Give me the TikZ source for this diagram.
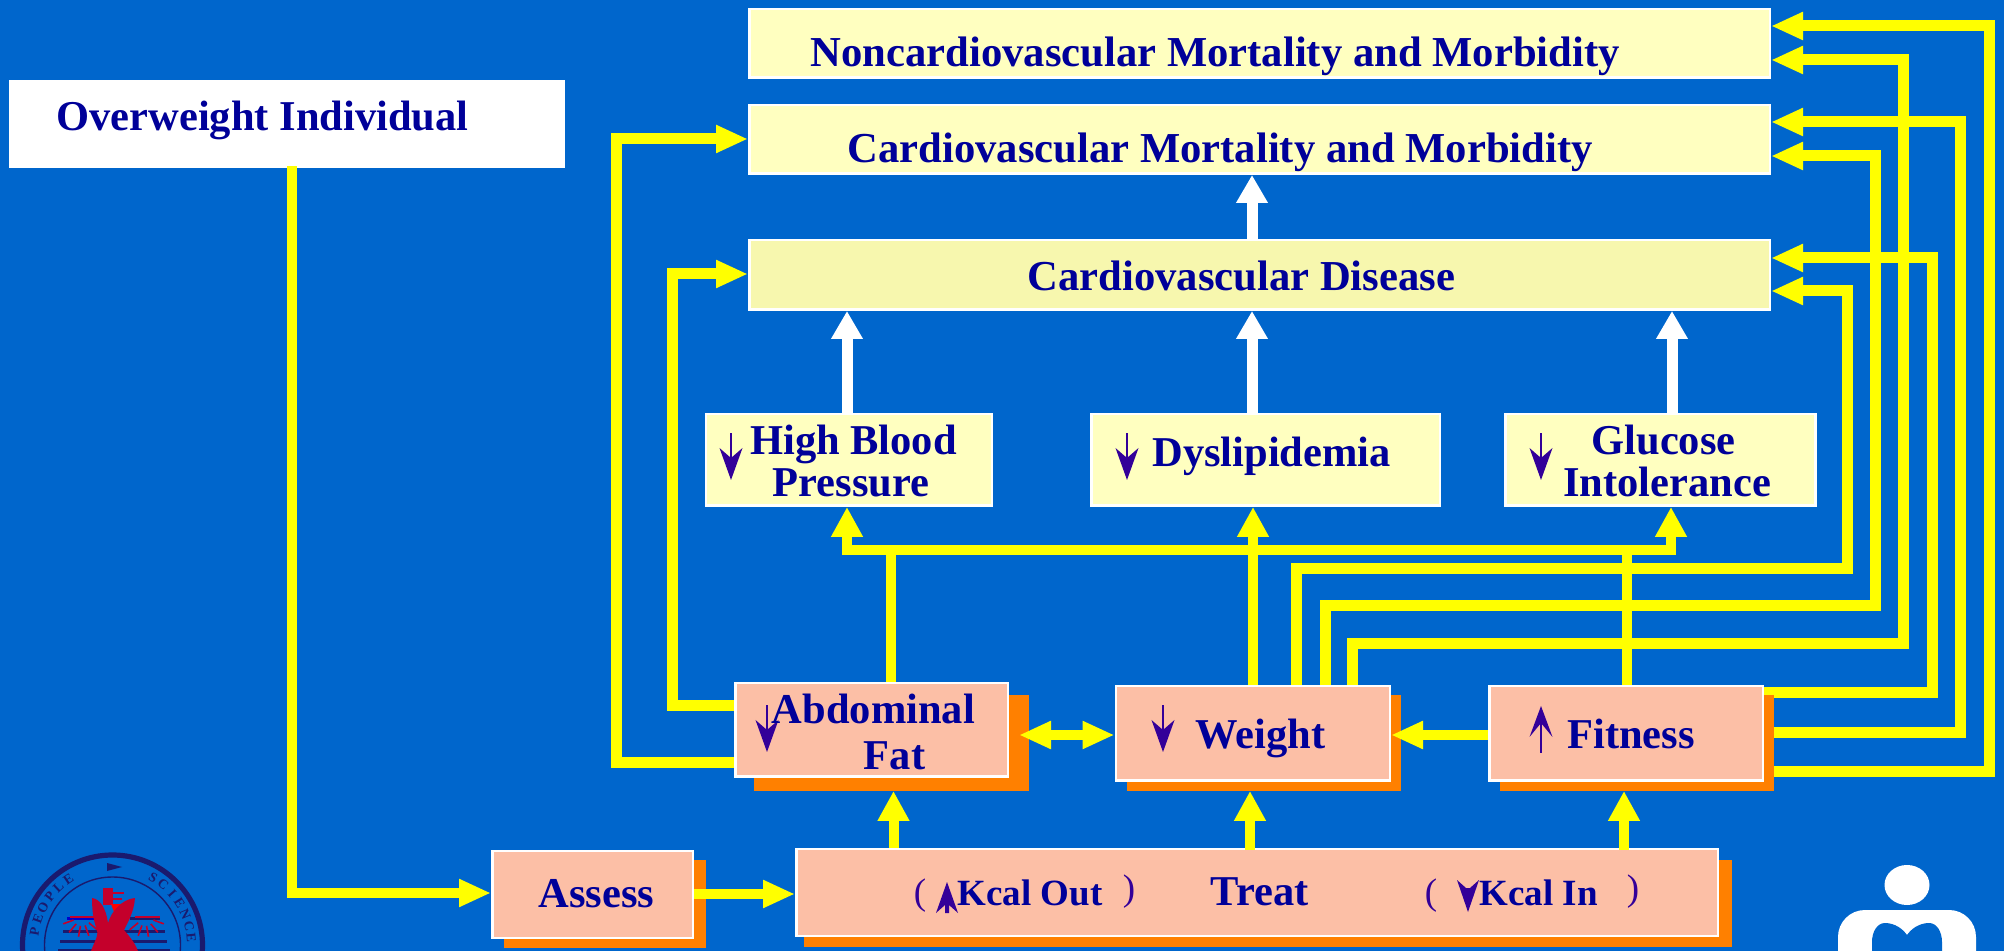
\documentclass[tikz,border=0pt]{standalone}
\usepackage{fontspec}
\setmainfont{Liberation Serif}
\usetikzlibrary{arrows.meta}
\definecolor{bgblue}{HTML}{0066CC}
\definecolor{pale}{HTML}{FFFFC0}
\definecolor{paled}{HTML}{F7F7AE}
\definecolor{salmon}{HTML}{FCBFA6}
\definecolor{shad}{HTML}{FF8000}
\definecolor{navytxt}{HTML}{000099}
\definecolor{purp}{HTML}{330099}
\definecolor{ylw}{HTML}{FFFF00}
\definecolor{seal}{HTML}{1A1A6E}
\definecolor{sealred}{HTML}{C4002B}
\pgfdeclarelayer{bg}
\pgfdeclarelayer{lines}
\pgfdeclarelayer{shadow}
\pgfsetlayers{bg,lines,shadow,main}
\tikzset{
  basebox/.style={rectangle,draw=white,line width=1.25pt,inner sep=0pt},
  palebox/.style={basebox,fill=pale},
  diseasebox/.style={basebox,fill=paled},
  salbox/.style={basebox,fill=salmon},
  whitebox/.style={rectangle,draw=white,fill=white,line width=0.5pt,inner sep=0pt},
  txt/.style={anchor=base west,inner sep=0pt,text=navytxt,font=\fontsize{21.25}{21}\selectfont\bfseries},
  toptxt/.style={txt,font=\fontsize{21.33}{21}\selectfont\bfseries},
  twoline/.style={anchor=center,inner sep=0pt,text=navytxt,font=\fontsize{21.25}{21}\selectfont\bfseries},
  kcal/.style={txt,font=\fontsize{18.5}{21}\selectfont\bfseries},
  paren/.style={anchor=base,inner sep=0pt,text=purp,font=\fontsize{18.5}{21}\selectfont},
  hflow/.style={draw=ylw,line width=5.5pt,-{Triangle[length=16pt,width=13pt]}},
  vflow/.style={draw=ylw,line width=5pt,-{Triangle[length=15pt,width=15pt]}},
  whiteflow/.style={draw=white,line width=5.5pt,-{Triangle[length=14pt,width=15pt]}},
  dblflow/.style={draw=ylw,line width=5pt,{Triangle[length=16pt,width=13pt]}-{Triangle[length=16pt,width=13pt]}},
  sealtxt/.style={inner sep=0pt,text=seal,font=\fontsize{6.8}{7}\selectfont\bfseries}
}
\newcommand\mkbox[6]{\node[#1,minimum width={(#5-#3)*0.5-1.25},minimum height={(#6-#4)*0.5-1.25}] (#2) at ({(#3+#5)/2},{(#4+#6)/2}) {};}
\newcommand\dnarr[2]{\begin{scope}[shift={(#1,#2)}]\fill[purp] (-1,0) rectangle (1,26);\fill[purp] (0,47) -- (11.5,15) -- (0,25) -- (-11.5,15) -- cycle;\end{scope}}
\newcommand\uparr[2]{\begin{scope}[shift={(#1,#2)}]\fill[purp] (-1,15) rectangle (1,47);\fill[purp] (0,0) -- (11.5,31) -- (0,17) -- (-11.5,31) -- cycle;\end{scope}}
\begin{document}
\begin{tikzpicture}[x=0.5pt,y=-0.5pt]
\useasboundingbox (0,0) rectangle (2004,951);
\begin{pgfonlayer}{bg}
\fill[bgblue] (0,0) rectangle (2004,951);
\end{pgfonlayer}
% shadows
\begin{pgfonlayer}{shadow}
\fill[shad] (754,695) rectangle (1029,791);
\fill[shad] (1127,695) rectangle (1401,791);
\fill[shad] (1500,695) rectangle (1774,791);
\fill[shad] (504,860) rectangle (706,948);
\fill[shad] (804,860) rectangle (1732,947);
\end{pgfonlayer}
% boxes
\mkbox{whitebox}{ow}{8.5}{79}{566}{169}
\mkbox{palebox}{nc}{748}{8}{1771}{79}
\mkbox{palebox}{cv}{748}{104}{1771}{175}
\mkbox{diseasebox}{cvd}{748}{239}{1771}{311}
\mkbox{palebox}{hb}{704.5}{413}{993}{507}
\mkbox{palebox}{dl}{1090}{413}{1441}{507}
\mkbox{palebox}{gi}{1504}{413}{1816.5}{507}
\mkbox{salbox}{abd}{734}{682}{1009}{778}
\mkbox{salbox}{wt}{1114.5}{685}{1391}{782}
\mkbox{salbox}{fit}{1488}{685}{1764}{782}
\mkbox{salbox}{as}{491}{850}{694}{939}
\mkbox{salbox}{tr}{795}{848}{1719}{937}
% connectors passing under the shadows
\begin{pgfonlayer}{lines}
\draw[hflow] (fit.east |- 0,772) -| (1989,26) -- (nc.east |- 0,26);
\draw[hflow] (fit.east |- 0,733) -| (1960,122) -- (cv.east |- 0,122);
\draw[hflow] (fit.east |- 0,693) -| (1932,258) -- (cvd.east |- 0,258);
\end{pgfonlayer}
% connectors on top
\draw[hflow] (1352,0 |- wt.north) |- (1903,644) |- (nc.east |- 0,60);
\draw[hflow] (1325,0 |- wt.north) |- (1875,606) |- (cv.east |- 0,156);
\draw[hflow] (1296,0 |- wt.north) |- (1847,569) |- (cvd.east |- 0,291);
\draw[hflow] (abd.west |- 0,763) -| (616,139) -- (cv.west |- 0,139);
\draw[hflow] (abd.west |- 0,706) -| (672,274) -- (cvd.west |- 0,274);
\draw[vflow] (1627,0 |- fit.north) |- (847,550) -- (847,0 |- hb.south);
\draw[vflow] (891,0 |- abd.north) |- (1671,550) -- (1671,0 |- gi.south);
\draw[vflow] (1253,0 |- wt.north) -- (1253,0 |- dl.south);
\draw[whiteflow] (1252,0 |- cvd.north) -- (1252,0 |- cv.south);
\draw[whiteflow] (847,0 |- hb.north) -- (847,0 |- cvd.south);
\draw[whiteflow] (1252,0 |- dl.north) -- (1252,0 |- cvd.south);
\draw[whiteflow] (1672,0 |- gi.north) -- (1672,0 |- cvd.south);
\draw[vflow,shorten >=6.5pt] (893.5,0 |- tr.north) -- (893.5,0 |- abd.south);
\draw[vflow,shorten >=4.5pt,shorten <=-1pt] (1250,0 |- tr.north) -- (1250,0 |- wt.south);
\draw[vflow,shorten >=4.5pt,shorten <=-1pt] (1624,0 |- tr.north) -- (1624,0 |- fit.south);
\draw[dblflow,shorten <=5pt] (abd.east |- 0,735) -- (wt.west |- 0,735);
\draw[hflow,line width=5pt] (fit.west |- 0,735) -- (wt.east |- 0,735);
\draw[hflow,line width=5pt] (as.east |- 0,894) -- (tr.west |- 0,894);
\draw[hflow,line width=5pt,shorten <=-1pt] (292,0 |- ow.south) |- (as.west |- 0,893);
% arrow glyphs
\dnarr{731}{433}
\dnarr{1127}{433}
\dnarr{1541}{433}
\dnarr{767}{705}
\dnarr{1163}{705}
\uparr{1541}{706}
\fill[purp] (947,882) -- (958,913) -- (949,905) -- (949,913) -- (945,913) -- (945,905) -- (936,913) -- cycle;
\fill[purp] (1468,912) -- (1479,880) -- (1470,888) -- (1466,888) -- (1457,880) -- cycle;
% texts
\node[txt] (owT) at (56,131) {Overweight Individual};
\node[toptxt] (ncT) at (810,67) {Noncardiovascular Mortality and Morbidity};
\node[toptxt] (cvT) at (847,163) {Cardiovascular Mortality and Morbidity};
\node[toptxt] (cvdT) at (1027,291) {Cardiovascular Disease};
\node[twoline,align=center] (hbT) at (853.5,461) {High Blood\\Pressure\hspace*{2.5pt}};
\node[txt] (dlT) at (1152,467) {Dyslipidemia};
\node[twoline,align=center] (giT) at (1667,461) {Glucose\hspace*{3.5pt}\\Intolerance};
\node[twoline,align=left] (abdT) at (873.5,732) {Abdominal\\[2pt]\hspace*{46pt}Fat};
\node[txt] (wtT) at (1195,749) {Weight};
\node[txt] (fitT) at (1567,749) {Fitness};
\node[txt] (asT) at (538,907) {Assess};
\node[txt] (trT) at (1210.5,906) {Treat};
\node[kcal] (koT) at (957,906) {Kcal Out};
\node[kcal] (kiT) at (1479,906) {Kcal In};
\node[paren] (p1) at (920,905) {(};
\node[paren] (p2) at (1129,900) {)};
\node[paren] (p3) at (1431,905) {(};
\node[paren] (p4) at (1633,900) {)};
% left seal
\begin{scope}
\clip (0,840) rectangle (230,951);
\draw[seal,line width=2.6pt] (112.5,945) circle[radius=90];
\draw[seal,line width=0.7pt] (112.5,945) circle[radius=68];
\foreach \c [count=\i] in {P,E,O,P,L,E}
  \node[sealtxt,rotate={80-9.2*(\i-1)}] (sp\i) at ({112.5-79*sin(80-9.2*(\i-1))},{945-79*cos(80-9.2*(\i-1))}) {\c};
\foreach \c [count=\i] in {S,C,I,E,N,C,E}
  \node[sealtxt,rotate={-(31+9*(\i-1))}] (ss\i) at ({112.5+79*sin(31+9*(\i-1))},{945-79*cos(31+9*(\i-1))}) {\c};
\fill[seal] (107,863) -- (122,867) -- (107,871) -- cycle;
\fill[blue!80!black] (67,917) rectangle (95,920);
\fill[seal] (130,917) rectangle (160,920);
\fill[seal] (63,930) rectangle (165,933);
\fill[seal] (60,940) rectangle (167,943);
\fill[seal] (58,949) rectangle (170,952);
\foreach \a in {20,50,80,110,140}{
  \draw[sealred,line width=0.8pt] (82,917) ++(180-\a:9) -- ++(180-\a:11);
  \draw[sealred,line width=0.8pt] (145,917) ++(\a:9) -- ++(\a:11);
}
\draw[sealred,line width=0.8pt] (70,917) -- (95,917);
\draw[sealred,line width=0.8pt] (135,917) -- (160,917);
\fill[sealred] (103,888) rectangle (113,905);
\draw[sealred,line width=0.8pt] (113,893) -- (124,893);
\draw[sealred,line width=0.8pt] (113,899) -- (122,899);
\fill[red] (111,904) -- (122,904) -- (114,912) -- cycle;
\fill[sealred] (92,898) .. controls (100,899) and (106,908) .. (108,923)
  .. controls (111,912) and (122,899) .. (135,898)
  .. controls (134,912) and (128,922) .. (124,930)
  .. controls (130,937) and (137,945) .. (139,955) -- (90,955)
  .. controls (92,945) and (99,937) .. (97,930)
  .. controls (93,920) and (92,908) .. cycle;
\end{scope}
% right emblem
\begin{scope}
\clip (1810,850) rectangle (2004,951);
\fill[white] (1907,885) ellipse[x radius=22.5,y radius=20];
\fill[white] (1838,960) -- (1838,937) .. controls (1838,922) and (1850,910) .. (1865,910) -- (1949,910) .. controls (1964,910) and (1976,922) .. (1976,937) -- (1976,960) -- cycle;
\fill[bgblue] (1907,935) .. controls (1900,925) and (1890,923) .. (1885,923) .. controls (1877,923) and (1872,932) .. (1872,942) -- (1872,960) -- (1942,960) -- (1942,942) .. controls (1942,932) and (1937,923) .. (1929,923) .. controls (1924,923) and (1914,925) .. (1907,935) -- cycle;
\end{scope}
\end{tikzpicture}
\end{document}
